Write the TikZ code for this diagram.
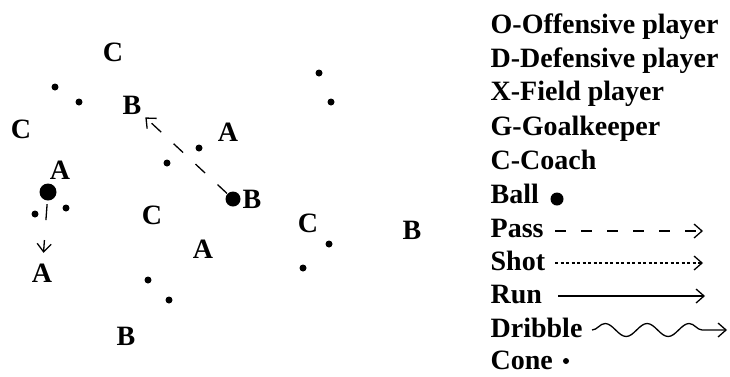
\documentclass[tikz,border=0pt]{standalone}
\usepackage{fontspec}
\setmainfont{Liberation Serif}
\usetikzlibrary{arrows.meta,decorations.pathmorphing}

\begin{document}
\begin{tikzpicture}[x=1pt,y=-1pt,line width=1.3pt]
\useasboundingbox (0,0) rectangle (730,376);
\tikzstyle{every node}=[font=\fontsize{28}{34}\selectfont\bfseries]
\tikzstyle{cone}=[circle,fill=black,inner sep=0pt,minimum size=7pt]
\tikzstyle{ball}=[circle,fill=black,inner sep=0pt,minimum size=15pt]
\tikzstyle{key}=[anchor=base west,inner sep=1pt]
\tikzstyle{tip}=[-{Straight Barb[length=8pt,width=14pt]}]
\tikzstyle{pass}=[tip,dash pattern=on 11pt off 15pt]
\tikzstyle{shot}=[tip,dash pattern=on 3pt off 2.5pt]
\tikzstyle{run}=[tip]
\tikzstyle{dribble}=[tip,decorate,decoration={snake,amplitude=6.5pt,segment length=42pt,post length=9pt}]
% field letters
\node (c1) at (113,52) {C};
\node (c2) at (21,129) {C};
\node (c3) at (152,215) {C};
\node (c4) at (308,223) {C};
\node (b1) at (132,105) {B};
\node (b2) at (252,199) {B};
\node (b3) at (412,230) {B};
\node (b4) at (126,336) {B};
\node (a1) at (228,132) {A};
\node (a2) at (60,170) {A};
\node (a3) at (42,273) {A};
\node (a4) at (203,249) {A};
% cones
\foreach \n/\x/\y in {1/55/87,2/79/102,3/199/148,4/167/163,5/35/214,6/66/208,
  7/148/280,8/169/300,9/319/73,10/331/102,11/329/244,12/303/268}
  \node[cone] (k\n) at (\x,\y) {};
% balls and passes
\node[ball,minimum size=17pt] (o1) at (48,192) {};
\node[ball] (o2) at (233,199) {};
\draw[pass,dash pattern=on 13pt off 17pt] (o2) -- (b1);
\draw[pass,dash pattern=on 16pt off 20pt,shorten <=3pt,shorten >=7pt] (o1) -- (a3);
% legend
\node[key] (lo) at (489,33) {O-Offensive player};
\node[key] (ld) at (489,67) {D-Defensive player};
\node[key] (lx) at (489,100) {X-Field player};
\node[key] (lg) at (489,135) {G-Goalkeeper};
\node[key] (lc) at (489,169) {C-Coach};
\node[key] (lball) at (489,203) {Ball};
\node[ball,minimum size=13pt] (lb) at (557,199) {};
\node[key] (lpass) at (489,237) {Pass};
\node[key] (lshot) at (489,270) {Shot};
\node[key] (lrun) at (489,303) {Run};
\node[key] (ldrib) at (489,337) {Dribble};
\node[key] (lcone) at (489,369) {Cone};
\node[cone,minimum size=6pt] (lk) at (566,361) {};
\coordinate (p1) at (555,231); \coordinate (p2) at (703,231);
\coordinate (s1) at (555,263); \coordinate (s2) at (703,263);
\coordinate (r1) at (558,296); \coordinate (r2) at (705,296);
\coordinate (d1) at (592,330); \coordinate (d2) at (727,330);
\draw[pass] (p1) -- (p2);
\draw[shot] (s1) -- (s2);
\draw[run] (r1) -- (r2);
\draw[dribble] (d1) -- (d2);
\end{tikzpicture}
\end{document}
